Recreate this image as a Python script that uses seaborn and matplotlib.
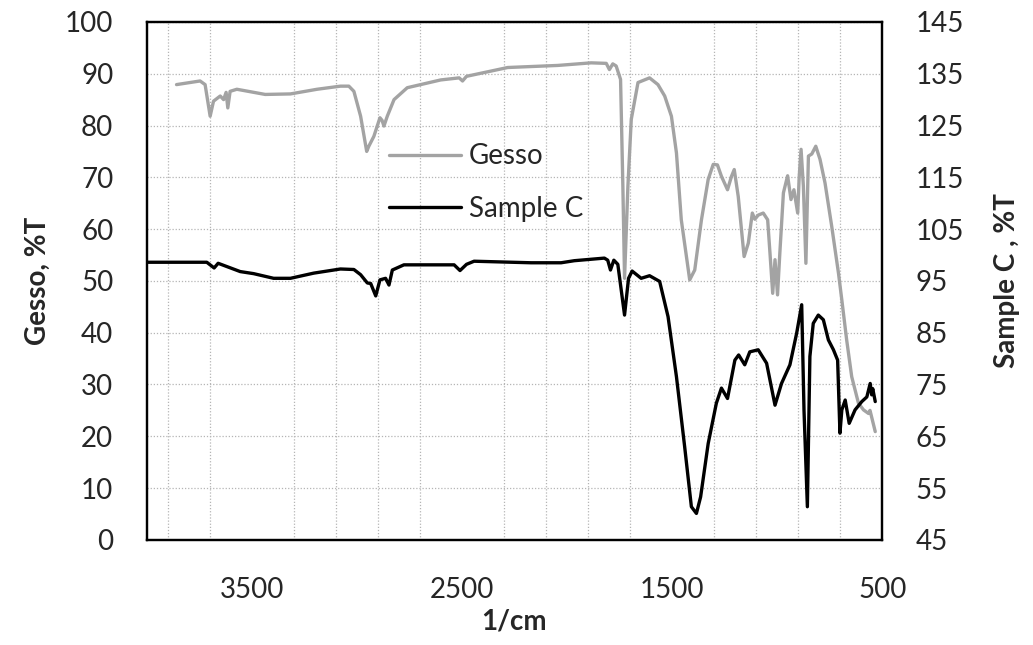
import numpy as np
import pandas as pd
import matplotlib
matplotlib.use("Agg")
import matplotlib.pyplot as plt
from matplotlib.ticker import FixedLocator, MultipleLocator
import seaborn as sns

# FTIR spectra (wavenumber in 1/cm, transmittance in %T)
gesso_wn = [3858, 3746, 3722, 3698, 3682, 3650, 3634, 3622, 3614, 3603, 3571, 3436, 3316, 3189,
            3078, 3038, 3014, 2982, 2953, 2943, 2919, 2890, 2880, 2871, 2855, 2823, 2760, 2601,
            2513, 2497, 2478, 2282, 2044, 1885, 1813, 1798, 1782, 1766, 1745, 1734, 1726, 1710,
            1694, 1662, 1607, 1567, 1535, 1503, 1479, 1456, 1416, 1392, 1360, 1328, 1304, 1284,
            1265, 1236, 1217, 1204, 1185, 1157, 1137, 1118, 1106, 1090, 1066, 1045, 1034, 1021,
            1010, 998, 987, 970, 950, 934, 920, 902, 895, 886, 875, 863, 851, 835, 816, 796, 772,
            740, 708, 692, 669, 645, 613, 589, 565, 558, 533]
gesso_t = [87.9, 88.6, 87.9, 81.8, 84.7, 85.7, 85.0, 86.4, 83.4, 86.6, 87.0, 86.0, 86.1, 87.0,
           87.6, 87.6, 86.6, 81.8, 75.0, 76.0, 77.9, 81.5, 81.0, 79.9, 81.8, 85.0, 87.3, 88.8,
           89.2, 88.6, 89.5, 91.2, 91.6, 92.1, 92.0, 90.8, 91.9, 91.5, 88.9, 68.3, 50.5, 68.3,
           81.2, 88.3, 89.2, 87.9, 85.7, 81.8, 74.7, 61.8, 50.2, 52.1, 61.8, 69.6, 72.5, 72.4,
           70.2, 67.6, 70.2, 71.5, 66.3, 54.7, 57.3, 63.1, 61.9, 62.7, 63.1, 61.8, 55.4, 47.6,
           54.1, 47.3, 55.4, 67.0, 70.3, 65.7, 67.6, 63.1, 70.0, 75.4, 68.3, 53.4, 74.1, 74.5,
           76.0, 73.5, 68.9, 60.5, 51.5, 46.3, 38.6, 31.5, 26.4, 25.1, 24.4, 25.0, 20.9]

sample_wn = [4000, 3714, 3679, 3660, 3555, 3491, 3396, 3316, 3205, 3078, 3014, 2982, 2950, 2934,
             2910, 2890, 2863, 2847, 2831, 2776, 2537, 2509, 2478, 2442, 2171, 2028, 1965, 1822,
             1806, 1793, 1777, 1758, 1726, 1707, 1690, 1647, 1607, 1559, 1519, 1479, 1440, 1408,
             1384, 1364, 1328, 1289, 1265, 1236, 1201, 1183, 1154, 1130, 1090, 1050, 1010, 979,
             939, 907, 883, 872, 856, 844, 828, 804, 780, 756, 732, 712, 701, 692, 676, 657, 629,
             597, 573, 557, 550, 545, 533]
sample_t = [98.6, 98.6, 97.5, 98.4, 96.8, 96.4, 95.5, 95.5, 96.5, 97.3, 97.2, 96.2, 94.6, 94.5,
            92.1, 95.2, 95.5, 94.2, 97.1, 98.1, 98.1, 97.0, 98.2, 98.8, 98.5, 98.5, 98.9, 99.4,
            99.0, 97.1, 99.0, 98.2, 88.4, 95.5, 96.9, 95.5, 96.0, 94.9, 88.1, 76.5, 63.0, 51.4,
            50.1, 53.3, 63.6, 71.4, 74.3, 72.3, 79.7, 80.7, 78.8, 81.3, 81.7, 79.1, 71.0, 75.2,
            78.8, 84.9, 90.4, 70.0, 51.4, 80.4, 86.8, 88.4, 87.5, 83.6, 81.7, 79.7, 65.6, 70.1,
            72.0, 67.5, 70.1, 71.7, 72.6, 75.2, 73.0, 74.2, 71.7]

x_ticks = [3500, 2500, 1500, 500]
right_ticks = [45, 55, 65, 75, 85, 95, 105, 115, 125, 135, 145]

sns.set_style("white")
plt.rcParams['font.family'] = ['Lato', 'DejaVu Sans']

gesso_df = pd.DataFrame({"wn": gesso_wn, "t": gesso_t})
sample_df = pd.DataFrame({"wn": sample_wn, "t": sample_t})

fig = plt.figure(figsize=(10.33, 6.45), dpi=100)
ax = fig.add_axes([0.142, 0.163, 0.712, 0.803])
ax2 = ax.twinx()

sns.lineplot(data=gesso_df, x="wn", y="t", ax=ax, color="#a3a3a3", lw=2.4, sort=False, label="Gesso", legend=False)
sns.lineplot(data=sample_df, x="wn", y="t", ax=ax2, color="black", lw=2.4, sort=False, label="Sample C", legend=False)

ax.set_xlim(4000, 500)
ax.set_ylim(0, 100)
ax2.set_ylim(45, 145)
ax.xaxis.set_major_locator(FixedLocator(x_ticks))
ax.xaxis.set_minor_locator(FixedLocator(np.arange(700, 4000, 200)))
ax.yaxis.set_major_locator(MultipleLocator(10))
ax2.yaxis.set_major_locator(FixedLocator(right_ticks))

# dotted grid like the Excel original
ax.grid(True, which="minor", axis="x", ls=(0, (1, 1.5)), color="#b5b5b5", lw=0.9)
ax.grid(True, which="major", axis="y", ls=(0, (1, 1.5)), color="#b5b5b5", lw=0.9)
ax.set_axisbelow(True)

ax.tick_params(axis="both", which="both", length=0, labelsize=20)
ax.tick_params(axis="y", pad=24)
ax.tick_params(axis="x", pad=27)
ax2.tick_params(axis="y", length=0, labelsize=20, pad=24)

ax.set_xlabel("1/cm", fontsize=20, fontweight="bold", labelpad=4)
ax.set_ylabel("Gesso, %T", fontsize=20, fontweight="bold", labelpad=10)
ax2.set_ylabel("Sample C , %T", fontsize=20, fontweight="bold", labelpad=22)

for a in (ax, ax2):
    for sp in a.spines.values():
        sp.set_color("black")
        sp.set_linewidth(1.6)

h1, l1 = ax.get_legend_handles_labels()
h2, l2 = ax2.get_legend_handles_labels()
ax.legend(h1 + h2, l1 + l2, loc="center left", bbox_to_anchor=(0.295, 0.69), frameon=False,
          fontsize=20, handlelength=2.6, handletextpad=0.3, labelspacing=0.95)

fig.savefig("out.png", dpi=100)
